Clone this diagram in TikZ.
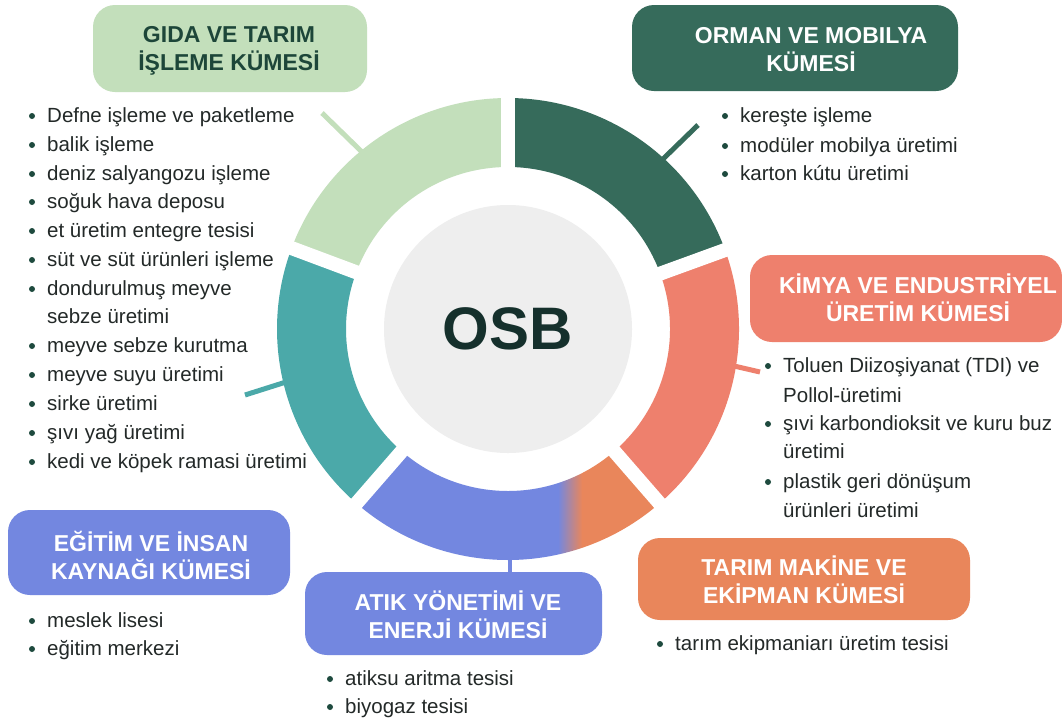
\documentclass[tikz,border=0pt]{standalone}
\usepackage{fontspec}
\setmainfont{Liberation Sans}
\definecolor{lgreen}{HTML}{C3DFBB}
\definecolor{dgreen}{HTML}{366B5B}
\definecolor{tealc}{HTML}{4BA9A9}
\definecolor{salmon}{HTML}{EE806D}
\definecolor{bluec}{HTML}{7387E0}
\definecolor{orangec}{HTML}{E9865B}
\definecolor{grayc}{HTML}{EEEEEE}
\definecolor{txt}{HTML}{232928}
\definecolor{bul}{HTML}{1E4A3E}
\definecolor{titledark}{HTML}{1D4639}
\definecolor{osbc}{HTML}{15302C}
\newcommand{\bitem}[4]{%
  \fill[bul] (#2-15,#3-6) circle (3pt);
  \node[item] (#1) at (#2,#3) {#4};}
\newcommand{\citem}[4]{\node[item] (#1) at (#2,#3) {#4};}
\begin{document}
\begin{tikzpicture}[x=1pt,y=-1pt,
  clusterbox/.style={rounded corners=22pt, inner sep=0pt, draw=none},
  titletext/.style={font=\fontsize{23}{28}\selectfont\bfseries, align=center, text=white, inner sep=0pt},
  item/.style={anchor=base west, font=\fontsize{20.5}{24}\selectfont, text=txt, inner sep=0pt},
  tick/.style={line width=5pt, line cap=butt}]
\useasboundingbox (0,0) rectangle (1062,724);
\fill[white] (0,0) rectangle (1062,724);

% ticks (connectors)
\coordinate (t1a) at (322,113); \coordinate (t1b) at (362,152);
\coordinate (t2a) at (698,125); \coordinate (t2b) at (662,160);
\coordinate (t3a) at (245,395); \coordinate (t3b) at (286,382);
\coordinate (t4a) at (760,372); \coordinate (t4b) at (734,366);
\coordinate (t5a) at (510,552);
\draw[tick, lgreen] (t1a) -- (t1b);
\draw[tick, dgreen] (t2a) -- (t2b);
\draw[tick, tealc] (t3a) -- (t3b);
\draw[tick, salmon] (t4a) -- (t4b);

% ring
\begin{scope}[shift={(508,329)}, yscale=-1]
  \fill[dgreen] (20:231) arc[start angle=20,end angle=90,radius=231] -- (90:162) arc[start angle=90,end angle=20,radius=162] -- cycle;
  \fill[lgreen] (90:231) arc[start angle=90,end angle=159.5,radius=231] -- (159.5:162) arc[start angle=159.5,end angle=90,radius=162] -- cycle;
  \fill[tealc] (159.5:231) arc[start angle=159.5,end angle=229,radius=231] -- (229:162) arc[start angle=229,end angle=159.5,radius=162] -- cycle;
  \fill[salmon] (311:231) arc[start angle=311,end angle=380,radius=231] -- (380:162) arc[start angle=380,end angle=311,radius=162] -- cycle;
  \begin{scope}
    \clip (229:231) arc[start angle=229,end angle=311,radius=231] -- (311:162) arc[start angle=311,end angle=229,radius=162] -- cycle;
    \fill[bluec] (-240,-240) rectangle (50,0);
    \shade[left color=bluec, right color=orangec] (50,-240) rectangle (74,0);
    \fill[orangec] (74,-240) rectangle (240,0);
  \end{scope}
  \foreach \a in {20,90,159.5,229,311} \draw[white, line width=14pt] (0,0) -- (\a:240);
\end{scope}
\node[circle, fill=grayc, minimum size=248pt, inner sep=0pt, text=osbc,
      font=\fontsize{60}{60}\selectfont\bfseries] (osb) at (508,329) {OSB};

% boxes
\node[clusterbox, fill=lgreen, minimum width=274pt, minimum height=87pt] (gidabox) at (230,48.5) {};
\node[titletext, text=titledark] (gidatitle) at (229,51) {GIDA VE TARIM\\İŞLEME KÜMESİ};
\node[clusterbox, fill=dgreen, minimum width=326pt, minimum height=86pt] (ormanbox) at (795,48) {};
\node[titletext] (ormantitle) at (811,49.5) {ORMAN VE MOBILYA\\KÜMESİ};
\node[clusterbox, fill=salmon, minimum width=312pt, minimum height=87pt] (kimyabox) at (906,298.5) {};
\node[titletext] (kimyatitle) at (918,298) {KİMYA VE ENDUSTRİYEL\\ÜRETİM KÜMESİ};
\node[clusterbox, fill=bluec, minimum width=282pt, minimum height=85pt] (egitimbox) at (149,552.5) {};
\node[titletext] (egitimtitle) at (151,555) {EĞİTİM VE İNSAN\\KAYNAĞI KÜMESİ};
\node[clusterbox, fill=bluec, minimum width=297pt, minimum height=83pt] (atikbox) at (453.5,613.5) {};
\node[titletext] (atiktitle) at (458,615) {ATIK YÖNETİMİ VE\\ENERJİ KÜMESİ};
\node[clusterbox, fill=orangec, minimum width=332pt, minimum height=82pt] (tarimbox) at (804,579) {};
\node[titletext] (tarimtitle) at (804,580) {TARIM MAKİNE VE\\EKİPMAN KÜMESİ};
\draw[tick, bluec, line width=4pt] (t5a) -- (t5a |- atikbox.north);

% lists
\bitem{g1}{47}{122}{Defne işleme ve paketleme}
\bitem{g2}{47}{151}{balik işleme}
\bitem{g3}{47}{180}{deniz salyangozu işleme}
\bitem{g4}{47}{208}{soğuk hava deposu}
\bitem{g5}{47}{237}{et üretim entegre tesisi}
\bitem{g6}{47}{266}{süt ve süt ürünleri işleme}
\bitem{g7}{47}{295}{dondurulmuş meyve}
\citem{g7b}{47}{323}{sebze üretimi}
\bitem{g8}{47}{352}{meyve sebze kurutma}
\bitem{g9}{47}{381}{meyve suyu üretimi}
\bitem{g10}{47}{410}{sirke üretimi}
\bitem{g11}{47}{439}{şıvı yağ üretimi}
\bitem{g12}{47}{468}{kedi ve köpek ramasi üretimi}

\bitem{o1}{740}{122}{kereşte işleme}
\bitem{o2}{740}{152}{modüler mobilya üretimi}
\bitem{o3}{740}{180}{karton kútu üretimi}

\bitem{k1}{783}{372}{Toluen Diizoşiyanat (TDI) ve}
\citem{k1b}{783}{402}{Pollol-üretimi}
\bitem{k2}{783}{430}{şıvi karbondioksit ve kuru buz}
\citem{k2b}{783}{458}{üretimi}
\bitem{k3}{783}{488}{plastik geri dönüşum}
\citem{k3b}{783}{517}{ürünleri üretimi}

\bitem{e1}{47}{627}{meslek lisesi}
\bitem{e2}{47}{655}{eğitim merkezi}

\bitem{a1}{345}{685}{atiksu aritma tesisi}
\bitem{a2}{345}{713}{biyogaz tesisi}

\bitem{t1}{675}{650}{tarım ekipmaniarı üretim tesisi}
\end{tikzpicture}
\end{document}
